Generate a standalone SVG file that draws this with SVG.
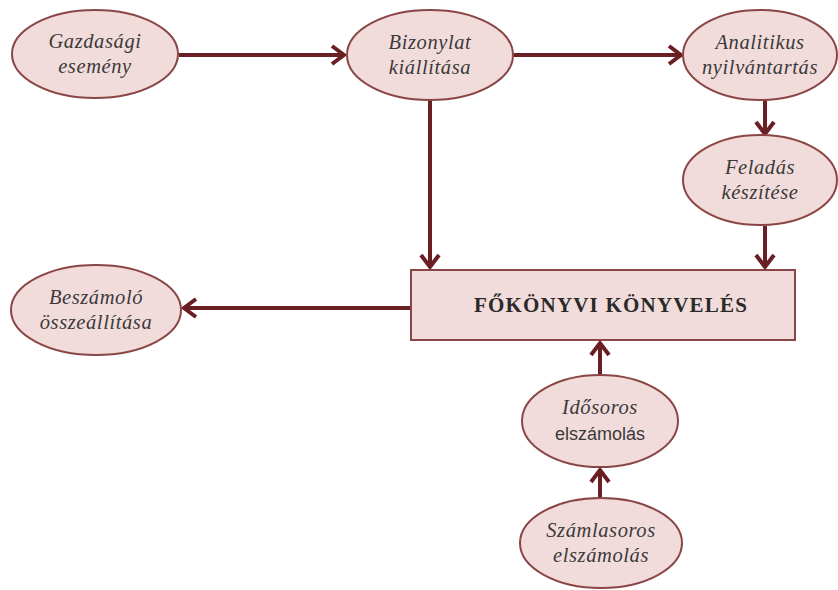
<svg xmlns="http://www.w3.org/2000/svg" width="838" height="590" viewBox="0 0 838 590">
<style>
.node ellipse{fill:#f2dcdb;stroke:#8a4646;stroke-width:2}
.node rect{fill:#f2dcdb;stroke:#8a4646;stroke-width:2}
.t{font-family:"Liberation Serif","Times New Roman",serif;font-style:italic;font-size:20.5px;letter-spacing:0.6px;fill:#3a3a3a;text-anchor:middle}
.s{font-family:"Liberation Sans",sans-serif;font-style:normal;font-size:18px;fill:#3a3a3a;text-anchor:middle}
.b{font-family:"Liberation Serif","Times New Roman",serif;font-weight:bold;font-size:21px;letter-spacing:1.2px;fill:#2a2a2a;text-anchor:middle}
#edges line{stroke:#6a1f24;stroke-width:4}
</style>
<defs>
<marker id="ah" markerUnits="userSpaceOnUse" markerWidth="20" markerHeight="24" viewBox="-2 -12 18 24" refX="12" refY="0" orient="auto">
<path d="M0,-9 L12,0 L0,9" fill="none" stroke="#6a1f24" stroke-width="4"/>
</marker>
</defs>
<rect width="838" height="590" fill="#ffffff"/>
<g id="edges">
<line x1="179" y1="55" x2="344" y2="55" marker-end="url(#ah)"/>
<line x1="514" y1="55" x2="681" y2="55" marker-end="url(#ah)"/>
<line x1="765" y1="100" x2="765" y2="134" marker-end="url(#ah)"/>
<line x1="430" y1="100" x2="430" y2="267" marker-end="url(#ah)"/>
<line x1="765" y1="226" x2="765" y2="267" marker-end="url(#ah)"/>
<line x1="411" y1="308" x2="184" y2="308" marker-end="url(#ah)"/>
<line x1="600" y1="375" x2="600" y2="343" marker-end="url(#ah)"/>
<line x1="600" y1="498" x2="600" y2="470" marker-end="url(#ah)"/>
</g>
<g id="n1" class="node"><ellipse cx="95" cy="54" rx="83" ry="44"/><text class="t" x="95" y="48">Gazdasági</text><text class="t" x="95" y="73">esemény</text></g>
<g id="n2" class="node"><ellipse cx="430" cy="55" rx="83" ry="45"/><text class="t" x="430" y="49">Bizonylat</text><text class="t" x="430" y="74">kiállítása</text></g>
<g id="n3" class="node"><ellipse cx="760" cy="55" rx="77" ry="45"/><text class="t" x="760" y="49">Analitikus</text><text class="t" x="760" y="74">nyilvántartás</text></g>
<g id="n4" class="node"><ellipse cx="760" cy="180" rx="77" ry="45"/><text class="t" x="760" y="174">Feladás</text><text class="t" x="760" y="199">készítése</text></g>
<g id="n5" class="node"><rect x="411" y="270" width="384" height="70"/><text class="b" x="611" y="312">FŐKÖNYVI KÖNYVELÉS</text></g>
<g id="n6" class="node"><ellipse cx="96" cy="310" rx="85" ry="45"/><text class="t" x="96" y="304">Beszámoló</text><text class="t" x="96" y="329">összeállítása</text></g>
<g id="n7" class="node"><ellipse cx="600" cy="421" rx="78" ry="46"/><text class="t" x="600" y="414">Idősoros</text><text class="s" x="600" y="440">elszámolás</text></g>
<g id="n8" class="node"><ellipse cx="601" cy="543" rx="81" ry="45"/><text class="t" x="601" y="537">Számlasoros</text><text class="t" x="601" y="562">elszámolás</text></g>
</svg>
